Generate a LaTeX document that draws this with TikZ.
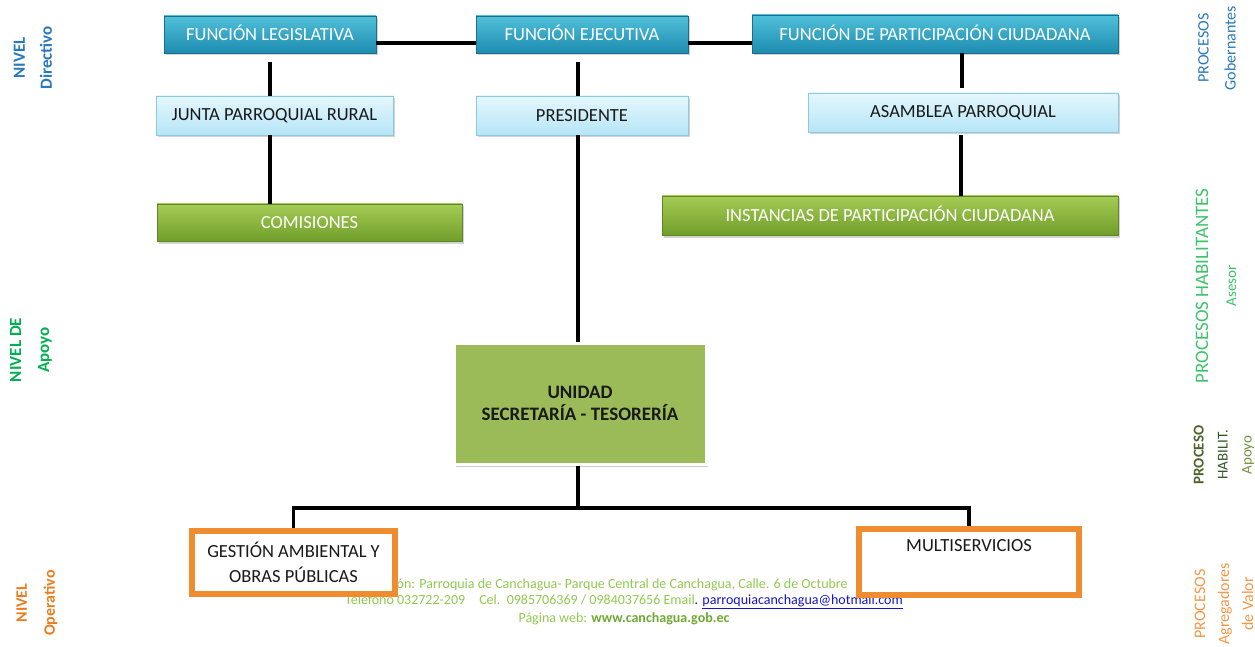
\documentclass[tikz,border=0pt]{standalone}
\usepackage{fontspec}
\setmainfont{Carlito}
\usetikzlibrary{shadows}
\definecolor{tealtop}{RGB}{80,192,218}
\definecolor{tealbot}{RGB}{30,140,176}
\definecolor{lbtop}{RGB}{228,247,253}
\definecolor{lbbot}{RGB}{182,229,246}
\definecolor{lbline}{RGB}{140,200,225}
\definecolor{grtop}{RGB}{165,204,85}
\definecolor{grbot}{RGB}{112,158,42}
\definecolor{unifill}{RGB}{155,187,89}
\definecolor{orng}{RGB}{240,140,48}
\definecolor{blulab}{RGB}{40,120,190}
\definecolor{grnlab}{RGB}{0,176,80}
\definecolor{grnlab2}{RGB}{60,195,105}
\definecolor{orglab}{RGB}{235,125,30}
\definecolor{orglab2}{RGB}{245,150,70}
\definecolor{dkgreen}{RGB}{79,98,40}
\definecolor{dkgreen2}{RGB}{55,86,35}
\definecolor{olive}{RGB}{118,146,60}
\definecolor{footg}{RGB}{146,200,80}
\definecolor{footg2}{RGB}{110,170,50}
\definecolor{linkb}{RGB}{20,20,200}
\definecolor{txt}{RGB}{25,25,25}
\tikzset{
  shd/.style={drop shadow={shadow xshift=2pt,shadow yshift=-2.5pt,opacity=.35}},
  tealbox/.style={shd,top color=tealtop,bottom color=tealbot,draw=tealbot!80!black,line width=.4pt,
    text=white,font=\fontsize{18.5}{21}\selectfont,inner sep=0pt,text height=12.5pt,text depth=0pt},
  lbbox/.style={shd,top color=lbtop,bottom color=lbbot,draw=lbline,line width=.6pt,
    text=txt,font=\fontsize{18.5}{21}\selectfont,inner sep=0pt},
  grbox/.style={shd,top color=grtop,bottom color=grbot,draw=grbot!85!black,line width=.4pt,
    text=white,font=\fontsize{18.5}{21}\selectfont,inner sep=0pt,text height=12.5pt,text depth=0pt},
  unibox/.style={drop shadow={shadow xshift=2pt,shadow yshift=-2.5pt,opacity=.4},fill=unifill,draw=white,line width=3pt,
    text=txt,font=\fontsize{19}{22}\selectfont\bfseries,align=center,inner sep=0pt},
  orbox/.style={shd,fill=white,draw=orng,line width=6pt,
    text=txt,font=\fontsize{18.5}{25}\selectfont,align=center,inner sep=0pt},
  conn/.style={line width=3.5pt,black},
  side/.style={rotate=90,align=center,inner sep=0pt},
  foot/.style={font=\fontsize{14}{16}\selectfont,text=footg,inner sep=0pt}
}
\begin{document}
\begin{tikzpicture}[x=1pt,y=-1pt]
\useasboundingbox (0,0) rectangle (1255,647);
% footer (drawn first, partly hidden by boxes)
\node[foot,anchor=west] (f1) at (358,585) {Dirección: Parroquia de Canchagua- Parque Central de Canchagua, Calle. 6 de Octubre};
\node[foot] (f2) at (624,602) {Teléfono 032722-209\quad Cel.\ \ 0985706369 / 0984037656 Email{\color{linkb}. \underline{parroquiacanchagua@hotmail.com}}};
\node[foot] (f3) at (624,619) {Página web: {\bfseries\color{footg2}www.canchagua.gob.ec}};

% boxes
\node[tealbox,minimum width=212pt,minimum height=37pt] (FL) at (270,34.5) {FUNCIÓN LEGISLATIVA};
\node[tealbox,minimum width=212pt,minimum height=37pt] (FE) at (582,34.5) {FUNCIÓN EJECUTIVA};
\node[tealbox,minimum width=366pt,minimum height=38pt] (FPC) at (935,34) {FUNCIÓN DE PARTICIPACIÓN CIUDADANA};
\node[lbbox,minimum width=237pt,minimum height=39pt] (JPR) at (274.5,115.5) {JUNTA PARROQUIAL RURAL};
\node[lbbox,minimum width=212pt,minimum height=39pt] (PRES) at (582,115.5) {PRESIDENTE};
\node[lbbox,minimum width=310pt,minimum height=39pt] (ASAM) at (963,112.5) {ASAMBLEA PARROQUIAL};
\node[grbox,minimum width=305pt,minimum height=37pt] (COM) at (309.5,222.5) {COMISIONES};
\node[grbox,minimum width=456pt,minimum height=39pt] (INST) at (890,215.5) {INSTANCIAS DE PARTICIPACIÓN CIUDADANA};
\node[unibox,minimum width=252pt,minimum height=121pt] (UNI) at (580,403.5) {UNIDAD\\SECRETARÍA - TESORERÍA};
\node[orbox,minimum width=203pt,minimum height=63pt] (GES) at (293.5,562.5) {GESTIÓN AMBIENTAL Y\\OBRAS PÚBLICAS};
\node[orbox,minimum width=220pt,minimum height=66pt] (MUL) at (969,562) {MULTISERVICIOS\\\strut};

% connectors
\draw[conn] ([yshift=-8.5pt]FL.east) -- ([yshift=-8.5pt]FE.west);
\draw[conn] ([yshift=-8.5pt]FE.east) -- ([yshift=-8.5pt]FE.east -| FPC.west);
\draw[conn,shorten <=9pt] (FL.south) -- (FL.south |- JPR.north);
\draw[conn] ([xshift=-4.5pt]JPR.south) -- ([xshift=-4.5pt]JPR.south |- COM.north);
\draw[conn,shorten <=9pt] ([xshift=-4pt]FE.south) -- ([xshift=-4pt]FE.south |- PRES.north);
\draw[conn] ([xshift=-4pt]PRES.south) -- ([xshift=-4pt]PRES.south |- UNI.north);
\draw[conn,shorten >=5pt] ([xshift=27pt]FPC.south) -- ([xshift=27pt]FPC.south |- ASAM.north);
\draw[conn,shorten <=3pt] ([xshift=-2pt]ASAM.south) -- ([xshift=-2pt]ASAM.south |- INST.north);
\coordinate (bus) at (578,508);
\draw[conn] ([xshift=-2pt]UNI.south) -- (bus);
\draw[conn] (GES.north) |- (bus) -| (MUL.north);

% side labels
\node[side,font=\fontsize{17}{27}\selectfont\bfseries,text=blulab] (L1) at (33,58) {NIVEL\\Directivo};
\node[side,font=\fontsize{17}{28}\selectfont\bfseries,text=grnlab] (L2) at (31,350) {NIVEL DE\\Apoyo};
\node[side,font=\fontsize{16}{28}\selectfont\bfseries,text=orglab] (L3) at (37,603) {NIVEL\\Operativo};
\node[side,font=\fontsize{16}{27}\selectfont,text=blulab] (R1) at (1217,48) {PROCESOS\\Gobernantes};
\node[side,font=\fontsize{15}{28}\selectfont,text=grnlab2] (R2) at (1216,286) {{\fontsize{19}{28}\selectfont PROCESOS HABILITANTES}\\Asesor};
\node[side,font=\fontsize{15}{24}\selectfont] (R3) at (1224,455) {{\bfseries\color{dkgreen}PROCESO}\\{\color{dkgreen2}HABILIT.}\\{\color{olive}Apoyo}};
\node[side,font=\fontsize{16}{24}\selectfont,text=orglab2] (R4) at (1224,604) {PROCESOS\\Agregadores\\de Valor};
\end{tikzpicture}
\end{document}
